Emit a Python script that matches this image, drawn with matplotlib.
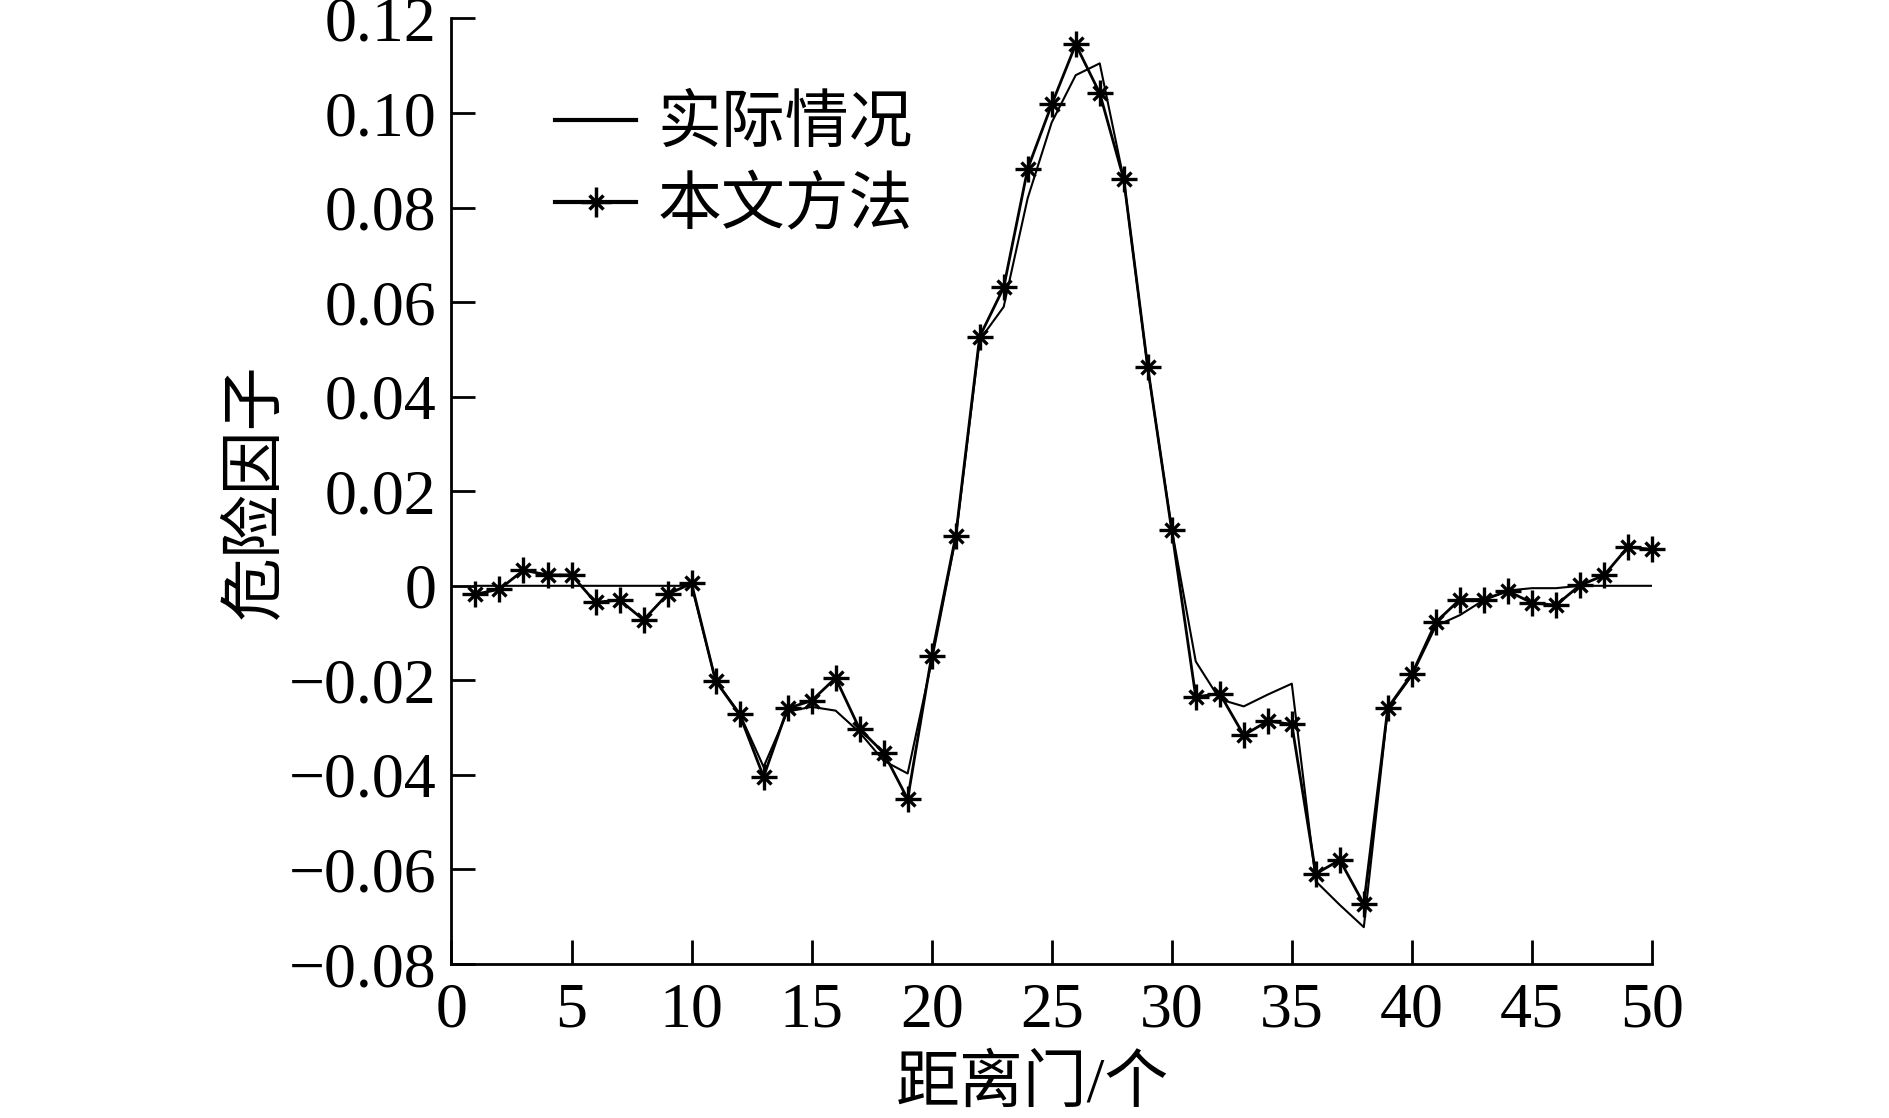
import matplotlib
matplotlib.use("Agg")
import matplotlib.pyplot as plt
from matplotlib.lines import Line2D
from matplotlib.legend_handler import HandlerTuple

plt.rcParams['font.family'] = ['Liberation Serif', 'Noto Sans CJK SC']
plt.rcParams['font.size'] = 46

# distance gate index
gates = list(range(1, 51))

# 实际情况 (actual)
actual = [0, 0, 0, 0, 0, 0, 0, 0, 0, 0,
          -0.020, -0.027, -0.0383, -0.0266, -0.0256, -0.0264, -0.031, -0.037, -0.0397, -0.016,
          0.010, 0.052, 0.059, 0.082, 0.098, 0.108, 0.1105, 0.086, 0.046, 0.012,
          -0.016, -0.024, -0.0255, -0.023, -0.0207, -0.0625, -0.0675, -0.0722, -0.026, -0.019,
          -0.0085, -0.0062, -0.003, -0.001, -0.0005, -0.0005, 0, 0, 0, 0]

# 本文方法 (proposed method)
method = [-0.0018, -0.0007, 0.0033, 0.0023, 0.0023, -0.0035, -0.0030, -0.0072, -0.0018, 0.0005,
          -0.0201, -0.0272, -0.0404, -0.0259, -0.0243, -0.0195, -0.0303, -0.0353, -0.0451, -0.0148,
          0.0105, 0.0527, 0.0631, 0.0882, 0.1018, 0.1145, 0.1042, 0.0860, 0.0462, 0.0117,
          -0.0235, -0.0228, -0.0316, -0.0286, -0.0293, -0.0609, -0.0580, -0.0673, -0.0258, -0.0187,
          -0.0077, -0.0029, -0.0029, -0.0011, -0.0036, -0.0041, 0.0001, 0.0022, 0.0082, 0.0077]

xticks = [0, 5, 10, 15, 20, 25, 30, 35, 40, 45, 50]
yticks = [-0.08, -0.06, -0.04, -0.02, 0, 0.02, 0.04, 0.06, 0.08, 0.10, 0.12]
ytick_labels = ['\u22120.08', '\u22120.06', '\u22120.04', '\u22120.02', '0',
                '0.02', '0.04', '0.06', '0.08', '0.10', '0.12']

fig = plt.figure(figsize=(18.89, 11.18), dpi=100)
ax = fig.add_axes([0.239, 0.1377, 0.6355, 0.8458])

ax.plot(gates, actual, color='k', lw=1.5)
ax.plot(gates, method, color='k', lw=2.0, marker='+', ms=19, mew=2.4, clip_on=False)
ax.plot(gates, method, ls='none', color='k', marker='x', ms=10, mew=2.4, clip_on=False)

ax.set_xlim(0, 50)
ax.set_ylim(-0.08, 0.12)
ax.set_xticks(xticks)
ax.set_yticks(yticks)
ax.set_yticklabels(ytick_labels)

for s in ['top', 'right']:
    ax.spines[s].set_visible(False)
for s in ['left', 'bottom']:
    ax.spines[s].set_linewidth(2.0)
ax.tick_params(axis='both', direction='in', length=17, width=2.0, labelsize=46)
ax.tick_params(axis='x', pad=13)
ax.tick_params(axis='y', pad=11)

ax.set_ylabel('危险因子', fontsize=46)
ax.yaxis.set_label_coords(-0.138, 0.5)
ax.set_xlabel('距离门/个', fontsize=46)
ax.xaxis.set_label_coords(0.484, -0.098)

h1 = Line2D([], [], color='k', lw=3)
h2a = Line2D([], [], color='k', lw=3, marker='+', ms=22, mew=2.5)
h2b = Line2D([], [], color='k', ls='none', marker='x', ms=10, mew=2.5)
ax.legend([h1, (h2a, h2b)], ['实际情况', '本文方法'],
          handler_map={tuple: HandlerTuple(ndivide=1)},
          loc='upper left', bbox_to_anchor=(0.086, 0.917), frameon=False,
          fontsize=46, borderpad=0, borderaxespad=0,
          handlelength=1.28, handletextpad=0.33, labelspacing=0.34)

fig.savefig('out.png', dpi=100)
